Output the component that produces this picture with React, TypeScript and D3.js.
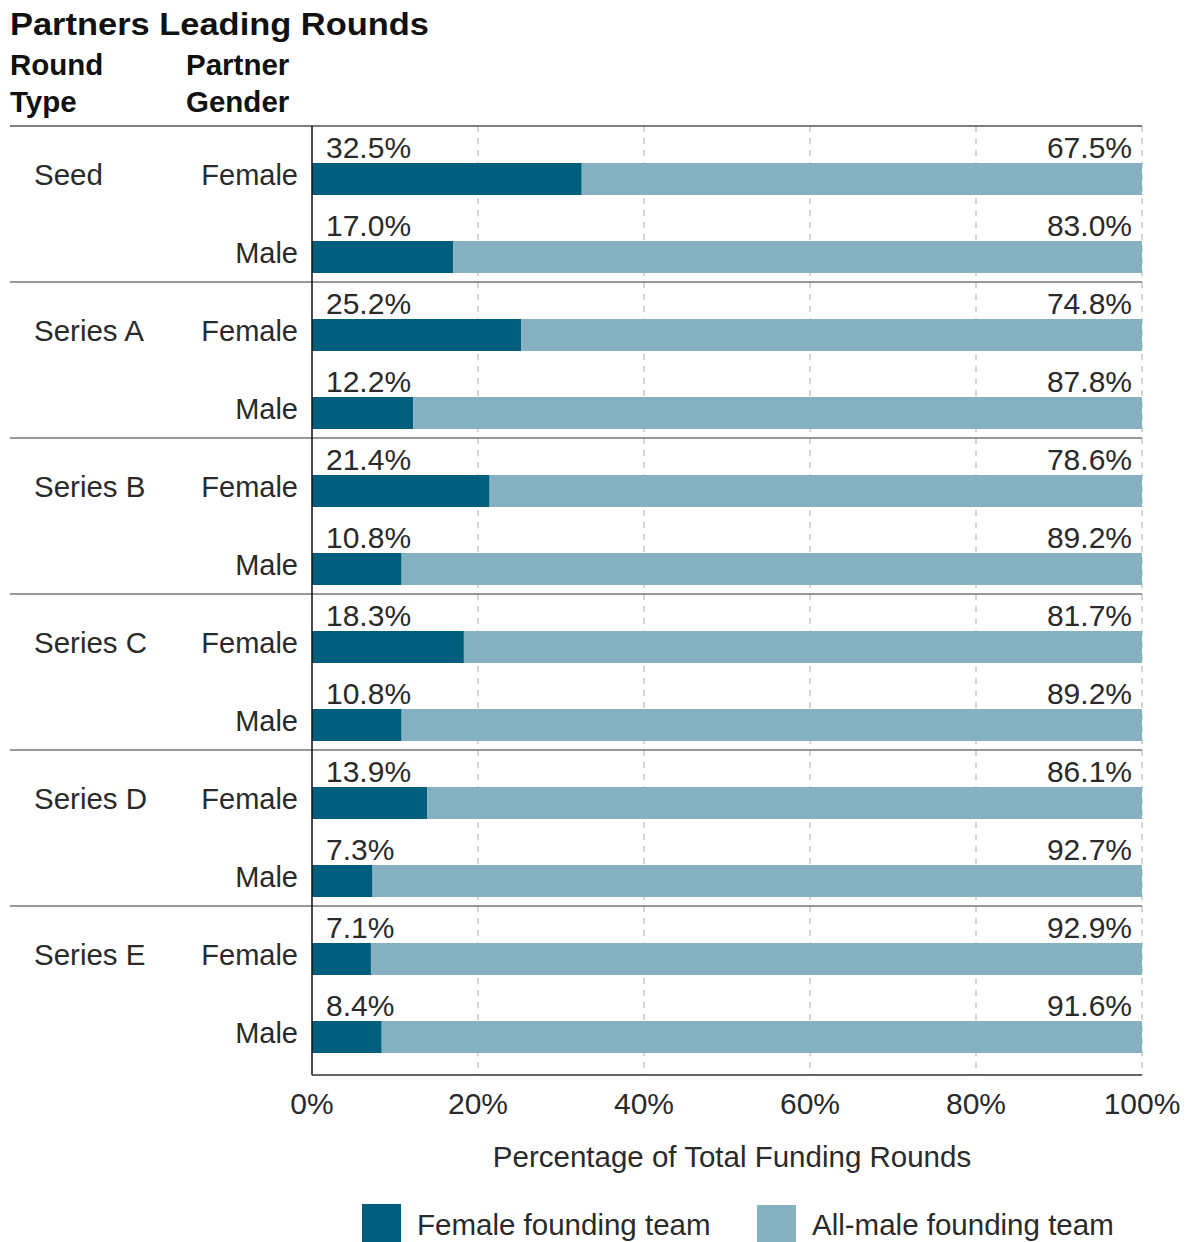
import React from "react";
import * as d3 from "d3";

const roundTypes = ["Seed", "Series A", "Series B", "Series C", "Series D", "Series E"];
const partnerGenders = ["Female", "Male"];
// share of rounds with a female founding team, per round type and partner gender
const femaleTeamShare = [
  [32.5, 17.0],
  [25.2, 12.2],
  [21.4, 10.8],
  [18.3, 10.8],
  [13.9, 7.3],
  [7.1, 8.4],
];
const xTicks = [0, 20, 40, 60, 80, 100];
const legendLabels = ["Female founding team", "All-male founding team"];

const DARK = "#005e7d";
const LIGHT = "#85b1c2";
const FONT = "'Liberation Sans', Arial, sans-serif";

export default function App() {
  const W = 1190, H = 1242;
  const plotLeft = 312, plotRight = 1142;
  const plotTop = 126, plotBottom = 1075;
  const rowH = 78;
  const barH = 32;
  const barOffset = 37;

  const x = d3.scaleLinear().domain([0, 100]).range([plotLeft, plotRight]);
  const rows = roundTypes.flatMap((r, i) =>
    partnerGenders.map((g, j) => ({ round: r, gender: g, gi: i, female: femaleTeamShare[i][j], key: `${r}-${g}` }))
  );
  const y = d3.scaleBand().domain(rows.map((d) => d.key)).range([plotTop, plotTop + rowH * rows.length]).padding(0);
  const fmt = d3.format(".1f");
  const txt = "#2a2a2a";
  const fs = 29.5;

  return (
    <svg width={W} height={H} style={{ position: "absolute", left: 0, top: 0 }} fontFamily={FONT}>
      <rect width={W} height={H} fill="#fff" />
      <text x={10} y={35} fontSize={32} fontWeight={700} fill="#111" textLength={419} lengthAdjust="spacingAndGlyphs">Partners Leading Rounds</text>
      <text x={10} y={75} fontSize={29.5} fontWeight={700} fill="#111">Round</text>
      <text x={10} y={112} fontSize={29.5} fontWeight={700} fill="#111">Type</text>
      <text x={186} y={75} fontSize={29.5} fontWeight={700} fill="#111">Partner</text>
      <text x={186} y={112} fontSize={29.5} fontWeight={700} fill="#111">Gender</text>

      {/* dashed vertical gridlines */}
      {xTicks.slice(1).map((t) => (
        <line key={t} x1={x(t)} x2={x(t)} y1={plotTop} y2={plotBottom} stroke="#c8c8c8" strokeWidth={1.5} strokeDasharray="6,6" />
      ))}

      {/* bars */}
      {rows.map((d) => {
        const y0 = (y(d.key) as number) + barOffset;
        return (
          <g key={d.key}>
            <rect x={x(0)} y={y0} width={x(d.female) - x(0)} height={barH} fill={DARK} />
            <rect x={x(d.female)} y={y0} width={x(100) - x(d.female)} height={barH} fill={LIGHT} />
            <text x={326} y={y0 - 5} fontSize={30} fill={txt}>{fmt(d.female)}%</text>
            <text x={1132} y={y0 - 5} fontSize={30} fill={txt} textAnchor="end">{fmt(100 - d.female)}%</text>
            <text x={298} y={y0 + 22} fontSize={29} fill={txt} textAnchor="end">{d.gender}</text>
          </g>
        );
      })}

      {/* round type labels and group separators */}
      {roundTypes.map((r, i) => {
        const top = plotTop + i * rowH * 2;
        return (
          <g key={r}>
            <line x1={10} x2={plotRight} y1={top} y2={top} stroke={i === 0 ? "#555" : "#777"} strokeWidth={1.5} />
            <text x={34} y={top + barOffset + 22} fontSize={fs} fill={txt}>{r}</text>
          </g>
        );
      })}

      {/* axes */}
      <line x1={plotLeft} x2={plotLeft} y1={plotTop} y2={plotBottom} stroke="#111" strokeWidth={1.5} />
      <line x1={plotLeft} x2={plotRight} y1={plotBottom} y2={plotBottom} stroke="#333" strokeWidth={1.5} />
      {xTicks.map((t) => (
        <text key={t} x={x(t)} y={1114} fontSize={30} fill={txt} textAnchor="middle">{t}%</text>
      ))}
      <text x={732} y={1167} fontSize={fs} fill={txt} textAnchor="middle">
        Percentage of Total Funding Rounds
      </text>

      {/* legend */}
      <rect x={362} y={1204} width={39} height={38} fill={DARK} />
      <text x={417} y={1235} fontSize={fs} fill={txt}>{legendLabels[0]}</text>
      <rect x={757} y={1205} width={39} height={37} fill={LIGHT} />
      <text x={812} y={1235} fontSize={fs} fill={txt}>{legendLabels[1]}</text>
    </svg>
  );
}
